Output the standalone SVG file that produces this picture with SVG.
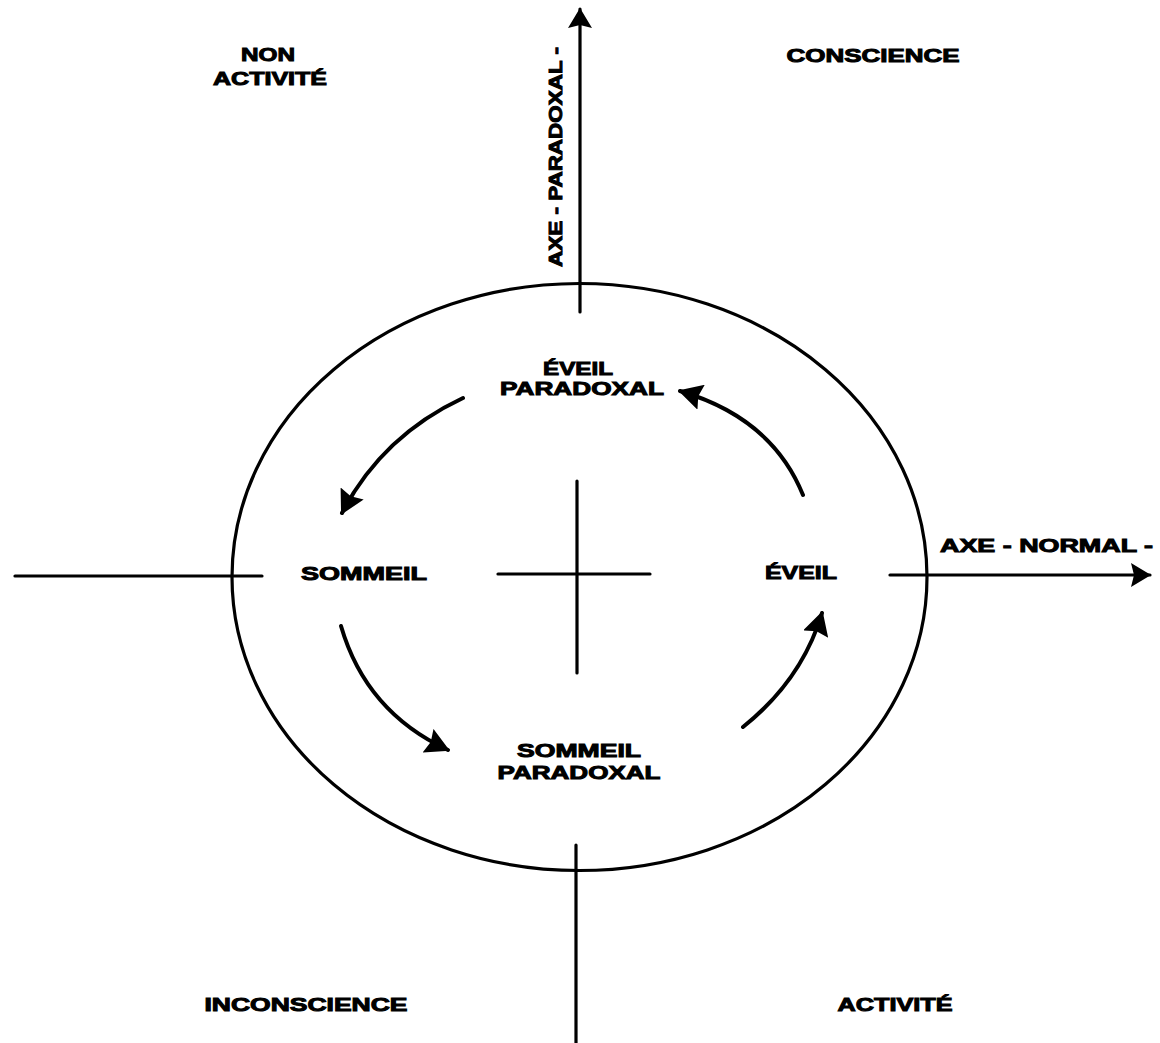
<svg xmlns="http://www.w3.org/2000/svg" width="1160" height="1043" viewBox="0 0 1160 1043">
<style>
.t{font-family:"Liberation Sans",Arial,sans-serif;font-weight:bold;font-size:19px;fill:#000;stroke:#000;stroke-width:1;text-anchor:middle}
.ts{text-anchor:start}
.ln{stroke:#000;stroke-width:3.2;fill:none;stroke-linecap:round}
.cv{stroke:#000;stroke-width:4;fill:none;stroke-linecap:round}
</style>
<defs>
<marker id="ah" markerUnits="userSpaceOnUse" viewBox="0 0 24 26" refX="22" refY="13" markerWidth="24" markerHeight="26" orient="auto">
<path d="M0,0 L24,13 L0,26 L3,13 z" fill="#000"/>
</marker>
<marker id="ax" markerUnits="userSpaceOnUse" viewBox="0 0 20 24" refX="19" refY="12" markerWidth="20" markerHeight="24" orient="auto">
<path d="M0,0 L20,12 L0,24 L3,12 z" fill="#000"/>
</marker>
</defs>
<rect width="1160" height="1043" fill="#fff"/>
<g id="connectors">
<ellipse cx="579.5" cy="577" rx="347.5" ry="293.5" class="ln"/>
<line x1="580" y1="312" x2="580" y2="9" class="ln" marker-end="url(#ax)"/>
<line x1="576" y1="845" x2="576" y2="1043" class="ln"/>
<line x1="15" y1="576" x2="262" y2="576" class="ln"/>
<line x1="890" y1="575" x2="1150" y2="575" class="ln" marker-end="url(#ax)"/>
<line x1="498" y1="574" x2="650" y2="574" class="ln"/>
<line x1="577" y1="481" x2="577" y2="673" class="ln"/>
<path d="M463,398 Q382,436 342,513" class="cv" marker-end="url(#ah)"/>
<path d="M803,495 Q772,418 680,391" class="cv" marker-end="url(#ah)"/>
<path d="M341,626 Q366,712 448,750" class="cv" marker-end="url(#ah)"/>
<path d="M743,727 Q802,680 822,613" class="cv" marker-end="url(#ah)"/>
</g>
<g id="non-activite">
<text class="t" x="268" y="61" textLength="54" lengthAdjust="spacingAndGlyphs">NON</text>
<text class="t" x="270" y="85" textLength="114" lengthAdjust="spacingAndGlyphs">ACTIVITÉ</text>
</g>
<g id="conscience">
<text class="t" x="873" y="62" textLength="173" lengthAdjust="spacingAndGlyphs">CONSCIENCE</text>
</g>
<g id="inconscience">
<text class="t" x="306" y="1011" textLength="203" lengthAdjust="spacingAndGlyphs">INCONSCIENCE</text>
</g>
<g id="activite">
<text class="t" x="895" y="1011" textLength="115" lengthAdjust="spacingAndGlyphs">ACTIVITÉ</text>
</g>
<g id="axe-paradoxal">
<text class="t ts" transform="translate(562,267) rotate(-90)" x="0" y="0" textLength="220" lengthAdjust="spacingAndGlyphs">AXE - PARADOXAL -</text>
</g>
<g id="axe-normal">
<text class="t ts" x="940" y="552" textLength="213" lengthAdjust="spacingAndGlyphs">AXE - NORMAL -</text>
</g>
<g id="eveil-paradoxal">
<text class="t" x="578" y="375" textLength="70" lengthAdjust="spacingAndGlyphs">ÉVEIL</text>
<text class="t" x="582" y="395" textLength="164" lengthAdjust="spacingAndGlyphs">PARADOXAL</text>
</g>
<g id="sommeil">
<text class="t" x="364" y="580" textLength="126" lengthAdjust="spacingAndGlyphs">SOMMEIL</text>
</g>
<g id="eveil">
<text class="t" x="801" y="579" textLength="72" lengthAdjust="spacingAndGlyphs">ÉVEIL</text>
</g>
<g id="sommeil-paradoxal">
<text class="t" x="579" y="757" textLength="124" lengthAdjust="spacingAndGlyphs">SOMMEIL</text>
<text class="t" x="579" y="779" textLength="163" lengthAdjust="spacingAndGlyphs">PARADOXAL</text>
</g>
</svg>
